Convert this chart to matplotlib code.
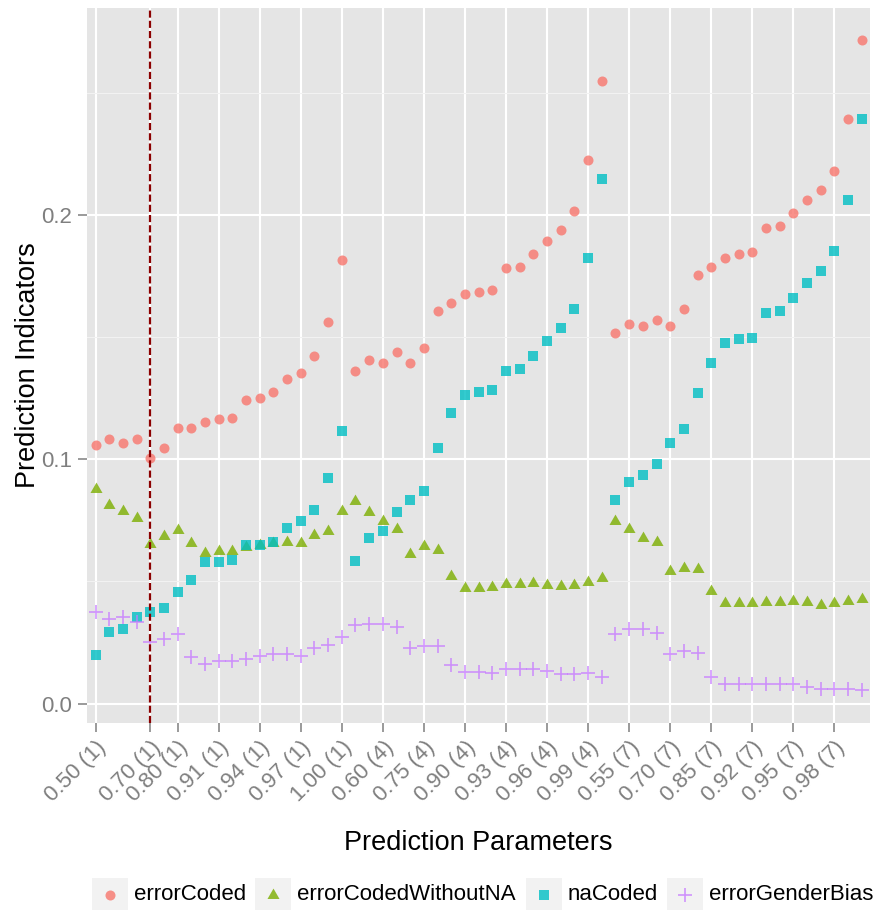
import matplotlib

matplotlib.use("Agg")
import matplotlib.pyplot as plt
from matplotlib.lines import Line2D
from matplotlib.patches import Rectangle
from matplotlib.path import Path
from matplotlib.ticker import MultipleLocator
import numpy as np

plt.rcParams["font.family"] = ["Liberation Sans", "DejaVu Sans"]

# prediction parameter grid: threshold value, then group number in brackets
THRESHOLDS = ["0.50", "0.55", "0.60", "0.65", "0.70", "0.75", "0.80", "0.85", "0.90",
              "0.91", "0.92", "0.93", "0.94", "0.95", "0.96", "0.97", "0.98", "0.99", "1.00"]
GROUPS = [1, 4, 7]
SHOWN_LABELS = ["0.50 (1)", "0.70 (1)", "0.80 (1)", "0.91 (1)", "0.94 (1)", "0.97 (1)",
                "1.00 (1)", "0.60 (4)", "0.75 (4)", "0.90 (4)", "0.93 (4)", "0.96 (4)",
                "0.99 (4)", "0.55 (7)", "0.70 (7)", "0.85 (7)", "0.92 (7)", "0.95 (7)",
                "0.98 (7)"]
CUTOFF_LABEL = "0.70 (1)"

error_coded = [
    0.1057, 0.1083, 0.1067, 0.1083, 0.1005, 0.1048, 0.1127, 0.1127, 0.1154, 0.1163,
    0.1171, 0.1241, 0.1250, 0.1276, 0.1327, 0.1353, 0.1423, 0.1562, 0.1815,
    0.1362, 0.1405, 0.1396, 0.1439, 0.1396, 0.1457, 0.1606, 0.1641, 0.1675, 0.1684,
    0.1693, 0.1781, 0.1789, 0.1841, 0.1893, 0.1938, 0.2016, 0.2226, 0.2549,
    0.1518, 0.1554, 0.1544, 0.1572, 0.1544, 0.1614, 0.1755, 0.1789, 0.1824, 0.1841,
    0.1850, 0.1947, 0.1956, 0.2007, 0.2060, 0.2104, 0.2181, 0.2392, 0.2714,
]
error_coded_without_na = [
    0.0879, 0.0814, 0.0790, 0.0758, 0.0655, 0.0688, 0.0710, 0.0658, 0.0616, 0.0626,
    0.0626, 0.0640, 0.0648, 0.0659, 0.0663, 0.0656, 0.0689, 0.0707, 0.0790,
    0.0831, 0.0783, 0.0747, 0.0716, 0.0614, 0.0646, 0.0629, 0.0521, 0.0474, 0.0474,
    0.0476, 0.0490, 0.0490, 0.0494, 0.0487, 0.0480, 0.0484, 0.0496, 0.0516,
    0.0748, 0.0715, 0.0679, 0.0663, 0.0542, 0.0555, 0.0553, 0.0460, 0.0412, 0.0412,
    0.0412, 0.0418, 0.0418, 0.0421, 0.0414, 0.0405, 0.0410, 0.0421, 0.0427,
]
na_coded = [
    0.0199, 0.0295, 0.0307, 0.0355, 0.0377, 0.0392, 0.0455, 0.0508, 0.0578, 0.0578,
    0.0586, 0.0648, 0.0648, 0.0663, 0.0717, 0.0749, 0.0793, 0.0925, 0.1117,
    0.0585, 0.0679, 0.0708, 0.0786, 0.0835, 0.0872, 0.1048, 0.1189, 0.1265, 0.1274,
    0.1283, 0.1361, 0.1368, 0.1421, 0.1484, 0.1537, 0.1615, 0.1824, 0.2149,
    0.0834, 0.0908, 0.0934, 0.0979, 0.1066, 0.1125, 0.1273, 0.1396, 0.1474, 0.1491,
    0.1498, 0.1597, 0.1606, 0.1659, 0.1720, 0.1769, 0.1852, 0.2060, 0.2392,
]
error_gender_bias = [
    0.0374, 0.0345, 0.0353, 0.0333, 0.0253, 0.0263, 0.0284, 0.0192, 0.0164, 0.0174,
    0.0174, 0.0184, 0.0193, 0.0203, 0.0205, 0.0197, 0.0227, 0.0239, 0.0274,
    0.0323, 0.0328, 0.0328, 0.0312, 0.0227, 0.0237, 0.0234, 0.0160, 0.0128, 0.0128,
    0.0127, 0.0142, 0.0142, 0.0142, 0.0133, 0.0121, 0.0121, 0.0126, 0.0109,
    0.0287, 0.0307, 0.0307, 0.0290, 0.0204, 0.0215, 0.0209, 0.0110, 0.0081, 0.0081,
    0.0081, 0.0081, 0.0081, 0.0081, 0.0070, 0.0062, 0.0062, 0.0062, 0.0055,
]

categories = [f"{t} ({g})" for g in GROUPS for t in THRESHOLDS]
xpos = np.arange(len(categories))

# equilateral triangle centred on its centroid, like R's pch 17
TRIANGLE = Path([(0, 0.577), (-0.5, -0.289), (0.5, -0.289), (0, 0.577)],
                [Path.MOVETO, Path.LINETO, Path.LINETO, Path.CLOSEPOLY])

SERIES = [
    ("errorCoded", error_coded, "#F8766D", "o", 52, 0),
    ("errorCodedWithoutNA", error_coded_without_na, "#7CAE00", TRIANGLE, 100, 0),
    ("naCoded", na_coded, "#00BFC4", "s", 52, 0),
    ("errorGenderBias", error_gender_bias, "#C77CFF", "+", 112, 1.2),
]
ALPHA = 0.8

W, H = 877, 910
fig = plt.figure(figsize=(W / 100, H / 100), dpi=100)
fig.patch.set_facecolor("white")


def fx(px):
    return px / W


def fy(py):
    return 1 - py / H


ax = fig.add_axes([fx(87.3), fy(722.7), fx(870) - fx(87.3), fy(8) - fy(722.7)])
ax.set_facecolor("#E5E5E5")
for side in ax.spines.values():
    side.set_visible(False)

for name, values, color, marker, size, lw in SERIES:
    if marker == "+":
        ax.scatter(xpos, values, s=size, marker=marker, color=color, alpha=ALPHA,
                   linewidths=lw, zorder=3)
    else:
        ax.scatter(xpos, values, s=size, marker=marker, color=color, alpha=ALPHA,
                   linewidths=0, zorder=3)

ax.axvline(categories.index(CUTOFF_LABEL), color="#8B0000", lw=1.6,
           linestyle=(0, (3.2, 1.4)), zorder=4)

all_vals = np.concatenate([error_coded, error_coded_without_na, na_coded, error_gender_bias])
lo, hi = all_vals.min(), all_vals.max()
pad = 0.05 * (hi - lo)
ax.set_ylim(lo - pad, hi + pad)
ax.set_xlim(-0.6, len(categories) - 1 + 0.6)

ax.yaxis.set_major_locator(MultipleLocator(0.1))
ax.yaxis.set_minor_locator(MultipleLocator(0.05))
ax.yaxis.set_major_formatter(matplotlib.ticker.FormatStrFormatter("%.1f"))
ax.grid(which="major", axis="both", color="white", lw=1.5, zorder=1)
ax.grid(which="minor", axis="y", color="#F2F2F2", lw=0.75, zorder=1)
ax.set_axisbelow(True)

tick_idx = [categories.index(lbl) for lbl in SHOWN_LABELS]
ax.set_xticks(tick_idx)
ax.set_xticklabels(SHOWN_LABELS, rotation=45, ha="right", va="top",
                   rotation_mode="anchor")
ax.tick_params(axis="both", which="major", length=6.5, width=1.1, color="#7F7F7F",
               labelcolor="#7F7F7F", labelsize=16)
ax.tick_params(axis="y", which="major", pad=4.5)
ax.tick_params(axis="x", which="major", pad=4)
ax.tick_params(axis="y", which="minor", length=0)

fig.text(fx(478.6), fy(843), "Prediction Parameters", ha="center", va="center",
         fontsize=19.5, color="black")
fig.text(fx(28), fy(365), "Prediction Indicators", ha="center", va="center",
         rotation=90, fontsize=19.5, color="black")

# legend along the bottom: grey key boxes with the marker, then the label
key_left = [92, 255, 526, 667]
for (name, values, color, marker, size, lw), kx in zip(SERIES, key_left):
    fig.add_artist(Rectangle((fx(kx), fy(911.5)), fx(36), fy(878) - fy(911.5),
                             transform=fig.transFigure, facecolor="#F2F2F2",
                             edgecolor="none"))
    ms = np.sqrt(size)
    fig.add_artist(Line2D([fx(kx + 18)], [fy(894.5)], transform=fig.transFigure,
                          marker=marker, markersize=ms, linestyle="none",
                          color=color, alpha=ALPHA,
                          markeredgewidth=lw if marker == "+" else 0))
    fig.text(fx(kx + 42), fy(895), name, ha="left", va="center", fontsize=16,
             color="black")

fig.savefig("out.png", dpi=100, facecolor="white")
